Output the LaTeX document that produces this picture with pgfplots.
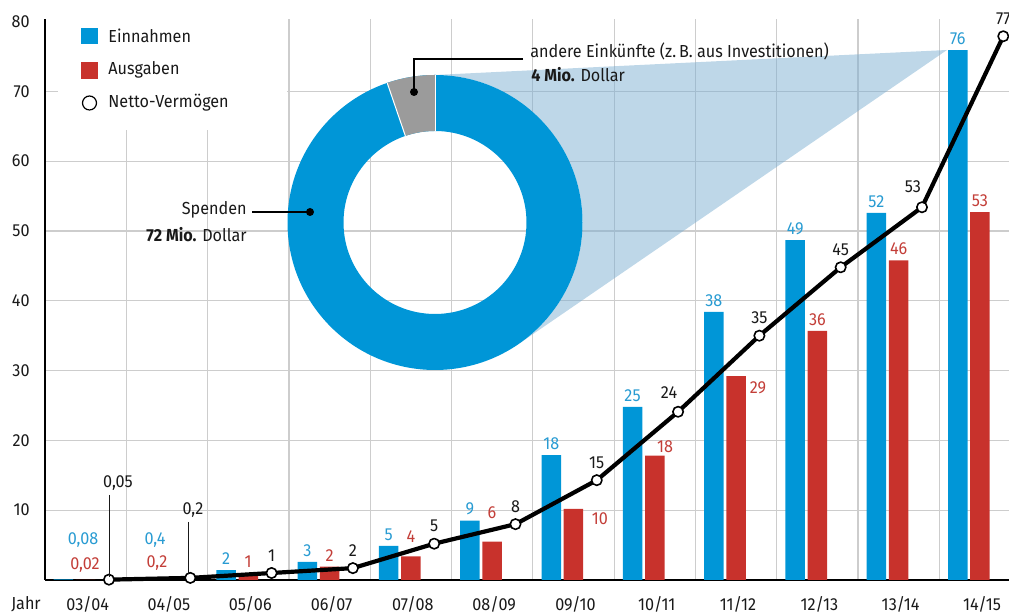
\documentclass[border=0pt]{standalone}
\usepackage{pgfplots}
\pgfplotsset{compat=1.18}
\usepackage{pgfplotstable}
\usepackage{fontspec}
\setmainfont{Fira Sans}[FakeStretch=0.93]
\usetikzlibrary{calc}

\definecolor{cblue}{RGB}{0,150,215}
\definecolor{cbluetxt}{RGB}{40,155,210}
\definecolor{cred}{RGB}{200,50,44}
\definecolor{credtxt}{RGB}{195,62,56}
\definecolor{cgray}{RGB}{155,155,155}
\definecolor{cgrid}{RGB}{205,205,205}
\definecolor{cwedge}{RGB}{125,175,210}
\definecolor{ctxt}{RGB}{25,25,25}

\newcommand\f{\fontsize{8.7pt}{10pt}\selectfont}

% Einnahmen, Ausgaben, Netto-Vermoegen (Mio. Dollar)
\pgfplotstableread{
x  ein  einl aus  ausl net  netl
0  0.08 {}   0.02 {}   0.05 {}
1  0.4  {}   0.2  {}   0.3  {}
2  1.4  2    1.0  1    1.0  1
3  2.6  3    1.9  2    1.7  2
4  4.9  5    3.4  {}   5.2  5
5  8.5  9    5.5  {}   8.0  8
6  17.9 18   10.2 {}   14.3 15
7  24.8 25   17.8 {}   24.1 {}
8  38.4 38   29.2 {}   35.0 35
9  48.7 49   35.7 36   44.8 45
10 52.6 52   45.8 46   53.4 {}
11 75.9 76   52.7 53   77.9 77
}\data

\begin{document}
\begin{tikzpicture}
\begin{axis}[
    x=40.65pt, y=3.49pt,
    xmin=-0.5, xmax=11.4, ymin=0, ymax=80.3,
    clip=false,
    axis x line=bottom, axis y line=left,
    axis line style={-},
    x axis line style={line width=1.4pt},
    y axis line style={line width=1pt},
    xtick={0,...,11},
    xticklabels={03/04,04/05,05/06,06/07,07/08,08/09,09/10,10/11,11/12,12/13,13/14,14/15},
    ytick={10,20,...,70},
    extra y ticks={80},
    extra tick style={grid=none},
    minor xtick={0.5,1.5,...,10.5},
    ymajorgrids, xminorgrids,
    major grid style={cgrid, line width=0.6pt},
    minor grid style={cgrid, line width=0.6pt},
    major tick length=0pt, minor tick length=0pt,
    /pgf/number format/assume math mode=true,
    tick label style={font=\f, text=ctxt, inner sep=0pt},
    xticklabel style={anchor=center, yshift=-12pt, xshift=1pt},
    yticklabel style={anchor=east, xshift=-7.5pt},
    every node near coord/.append style={font=\f, inner sep=0pt, anchor=south},
]
\addplot[ybar, bar width=9.75pt, bar shift=0pt, fill=cblue, draw=none,
    nodes near coords, point meta=explicit symbolic,
    every node near coord/.append style={text=cbluetxt, yshift=2.5pt}]
    table[x expr=\thisrow{x}-0.273, y=ein, meta=einl] {\data};
\addplot[ybar, bar width=9.75pt, bar shift=0pt, fill=cred, draw=none,
    nodes near coords, point meta=explicit symbolic,
    every node near coord/.append style={text=credtxt, yshift=2.5pt}]
    table[x=x, y=aus, meta=ausl] {\data};
\addplot[color=black, line width=2.1pt, line join=round,
    mark=*, mark size=2.6pt, mark options={fill=white, draw=black, line width=0.8pt},
    nodes near coords, point meta=explicit symbolic,
    every node near coord/.append style={text=ctxt, yshift=5.5pt}]
    table[x expr=\thisrow{x}+0.287, y=net, meta=netl] {\data};
\coordinate (O) at (axis cs:-0.5,0);
\end{axis}

% pixel frame of the reference picture
\begin{scope}[shift={($(O)+(-22.5pt,290pt)$)}, x=0.5pt, y=-0.5pt]
  % legend
  \fill[white] (58,0) rectangle (287,130);
  \fill[cblue] (81,28) rectangle (98,44);
  \fill[cred] (81,62) rectangle (98,79);
  \draw[black, line width=0.6pt, fill=white] (89.5,103) circle[radius=3.5pt];
  \node[anchor=west, font=\f, text=ctxt, inner sep=0pt] at (108,36) {Einnahmen};
  \node[anchor=west, font=\f, text=ctxt, inner sep=0pt] at (108,70) {Ausgaben};
  \node[anchor=west, font=\f, text=ctxt, inner sep=0pt] at (108,103) {Netto-Vermögen};

  % wedge and donut
  \coordinate (C) at (435,222.5);
  \fill[cwedge, opacity=0.5] ($(C)+(90:73.75pt)$) -- (947,50) -- ($(C)+(-55.5:73.75pt)$)
      arc[start angle=-55.5, end angle=90, radius=73.75pt] -- cycle;
  \fill[cblue, even odd rule] (C) circle[radius=73.75pt] (C) circle[radius=45.75pt];
  \fill[cgray] ($(C)+(90:73.75pt)$) arc[start angle=90, end angle=108.9, radius=73.75pt]
      -- ($(C)+(108.9:45.75pt)$) arc[start angle=108.9, end angle=90, radius=45.75pt] -- cycle;
  \draw[white, line width=0.5pt] ($(C)+(90:45.75pt)$) -- ($(C)+(90:73.75pt)$);
  \draw[white, line width=0.5pt] ($(C)+(108.9:45.75pt)$) -- ($(C)+(108.9:73.75pt)$);

  % donut annotations
  \draw[black, line width=0.6pt] (523,59) -- (414,59) -- (414,92);
  \fill[black] (414,92) circle[radius=2pt];
  \node[anchor=base west, font=\f, text=ctxt, inner sep=0pt] at (530,58) {andere Einkünfte (z.\,B. aus Investitionen)};
  \node[anchor=west, font=\f, text=ctxt, inner sep=0pt] at (531,75) {\textbf{4 Mio.} Dollar};
  \draw[black, line width=0.6pt] (252,212) -- (310,212);
  \fill[black] (310,212) circle[radius=2pt];
  \node[anchor=east, font=\f, text=ctxt, inner sep=0pt] at (247,210) {Spenden};
  \node[anchor=east, font=\f, text=ctxt, inner sep=0pt] at (247,235) {\textbf{72 Mio.} Dollar};

  % labels that do not sit right above their bar or point
  \node[font=\f, text=cbluetxt] at (83,540) {0,08};
  \node[font=\f, text=cbluetxt] at (155,540) {0,4};
  \node[font=\f, text=credtxt] at (85,565) {0,02};
  \node[font=\f, text=credtxt] at (157,563) {0,2};
  \draw[ctxt, line width=0.5pt] (110,495) -- (110,577);
  \node[font=\f, text=ctxt] at (118,483) {0,05};
  \draw[ctxt, line width=0.5pt] (188,522) -- (188,574);
  \node[font=\f, text=ctxt] at (193,510) {0,2};
  \node[font=\f, text=credtxt] at (411,537) {4};
  \node[font=\f, text=credtxt] at (492,513) {6};
  \node[font=\f, text=credtxt] at (600,519) {10};
  \node[font=\f, text=credtxt] at (665,447) {18};
  \node[font=\f, text=credtxt] at (758,388) {29};
  \node[font=\f, text=ctxt] at (669,393) {24};
  \node[font=\f, text=ctxt] at (913,187) {53};
  \node[font=\f, text=ctxt] at (26,604) {Jahr};

  \pgfresetboundingbox
  \path[use as bounding box] (0,0) rectangle (1009,614);
\end{scope}
\end{tikzpicture}
\end{document}
